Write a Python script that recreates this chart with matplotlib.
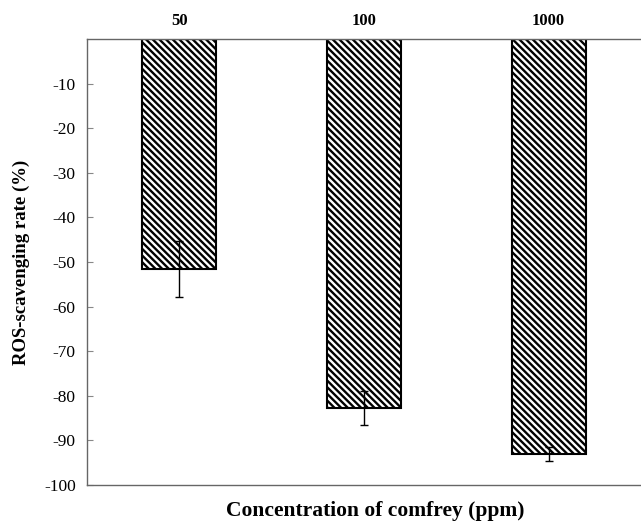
import matplotlib
matplotlib.use("Agg")
import matplotlib.pyplot as plt

# ROS scavenging rate vs comfrey concentration
conc = ["50", "100", "1000"]
rate = [-51.6, -82.7, -93.0]
err = [6.3, 3.8, 1.6]
yticks = [-10, -20, -30, -40, -50, -60, -70, -80, -90, -100]

plt.rcParams['font.family'] = ['Liberation Serif', 'DejaVu Serif']
plt.rcParams['hatch.linewidth'] = 1.7

fig = plt.figure(figsize=(6.41, 5.24), dpi=100)
ax = fig.add_axes([0.1357, 0.0744, 0.8643, 0.8512])

x = range(len(conc))
ax.bar(x, rate, width=0.4, color='white', edgecolor='black', linewidth=1.5,
       hatch='\\' * 5, zorder=2)
ax.errorbar(x, rate, yerr=err, fmt='none', ecolor='black', elinewidth=1,
            capsize=3, capthick=1, zorder=3)

ax.set_xlim(-0.5, 2.5)
ax.set_ylim(-100, 0)
ax.set_yticks(yticks)
ax.set_yticklabels([str(v) for v in yticks], fontsize=12.5)
ax.tick_params(axis='y', direction='in', length=4, color='#888888', pad=8)

ax.xaxis.tick_top()
ax.set_xticks(list(x))
ax.set_xticklabels(conc, fontsize=12, fontweight='bold')
ax.tick_params(axis='x', length=0, pad=7)

for side in ['left', 'top', 'bottom']:
    ax.spines[side].set_color('#666666')
    ax.spines[side].set_linewidth(1.0)
ax.spines['right'].set_visible(False)

ax.set_ylabel("ROS-scavenging rate (%)", fontsize=13.5, fontweight='bold', labelpad=10)
fig.text(0.585, 0.025, "Concentration of comfrey (ppm)", fontsize=15.5,
         fontweight='bold', ha='center', va='center')

fig.savefig("out.png", dpi=100)
